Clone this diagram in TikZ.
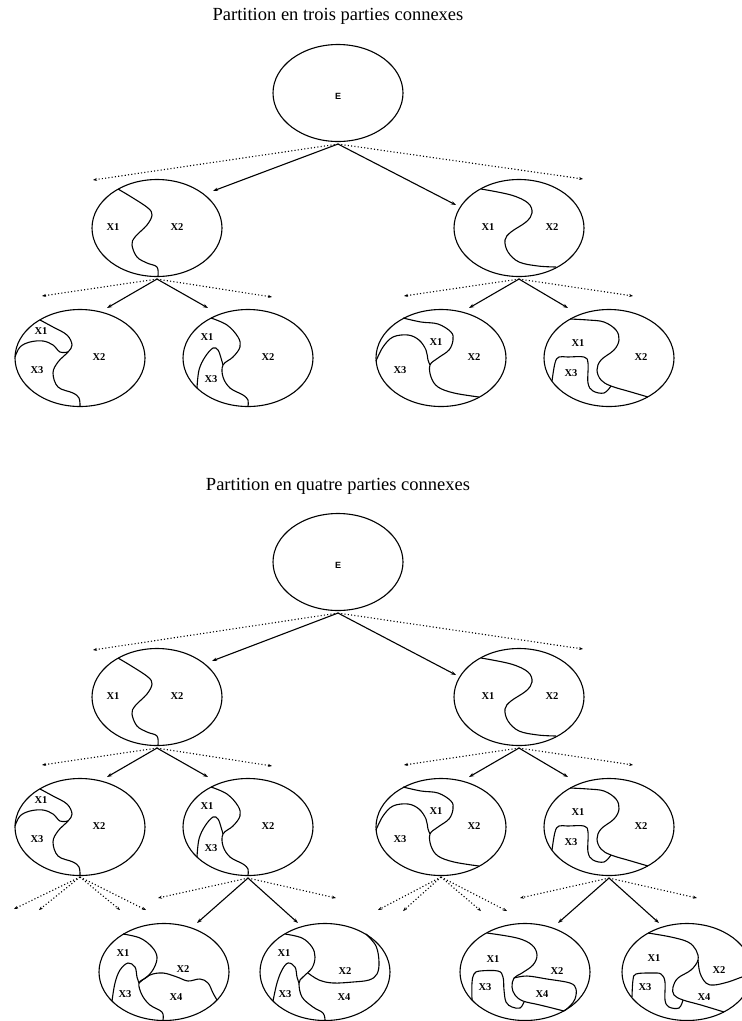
\documentclass[tikz,border=0pt]{standalone}
\usepackage{fontspec}
\setmainfont{Liberation Serif}
\newfontfamily\labfont{Liberation Serif}
\newfontfamily\efont{Liberation Sans}
\usetikzlibrary{shapes.geometric,arrows.meta,calc}
\tikzset{
  ell/.style={draw, ellipse, minimum width=130pt, minimum height=97pt, inner sep=0pt, line width=1.1pt},
  cut/.style={line width=1.1pt},
  lab/.style={font=\labfont\bfseries\fontsize{10.5}{10.5}\selectfont, inner sep=0pt},
  elab/.style={font=\efont\bfseries\fontsize{9}{9}\selectfont},
  arr/.style={line width=1.1pt, -{Stealth[length=5pt,width=3.5pt]}},
  darr/.style={line width=1.1pt, dash pattern=on 1.1pt off 2.2pt, -{Stealth[length=4pt,width=3pt]}},
  ttl/.style={font=\fontsize{18.5}{18.5}\selectfont, inner sep=0pt},
}
% curves inside the ellipses, coordinates relative to the ellipse centre
\newcommand{\shapeA}[1]{%
  \draw[cut] plot[smooth,tension=0.6] coordinates {(-39,-39) (-24,-30) (-9,-20) (-5,-13) (-10,-3) (-22,9) (-25,17) (-20,29) (-10,35) (0,39) (1,48)};
  \node[lab] (#1-1) at (-44,-1) {X1};
  \node[lab] (#1-2) at (20,-1) {X2};
}
\newcommand{\shapeB}[1]{%
  \draw[cut] plot[smooth,tension=0.6] coordinates {(-38,-39) (-8,-33) (9,-25) (13,-15) (7,-6) (-8,4) (-14,12) (-11,24) (0,34) (19,38) (37,39)};
  \node[lab] (#1-1) at (-31,-1) {X1};
  \node[lab] (#1-2) at (33,-1) {X2};
}
\newcommand{\shapeC}[1]{%
  \draw[cut] plot[smooth,tension=0.6] coordinates {(-40,-38) (-27,-31) (-13,-23) (-8,-13) (-12,-6) (-22,4) (-27,15) (-22,29) (-7,35) (-1,40) (0,48)};
  \draw[cut] plot[smooth,tension=0.6] coordinates {(-65,-1) (-60,-11) (-50,-16) (-37,-17) (-27,-13) (-20,-6) (-12,-6)};
  \node[lab] (#1-1) at (-39,-27) {X1};
  \node[lab] (#1-2) at (19,-1) {X2};
  \node[lab] (#1-3) at (-43,12) {X3};
}
\newcommand{\shapeD}[1]{%
  \draw[cut] plot[smooth,tension=0.6] coordinates {(-37,-40) (-21,-33) (-10,-21) (-8,-11) (-15,-1) (-25,7) (-25,19) (-18,30) (-5,37) (0,42) (0,48)};
  \draw[cut] plot[smooth,tension=0.6] coordinates {(-51,30) (-49,12) (-43,-1) (-35,-10) (-30,-8) (-27,0) (-25,7)};
  \node[lab] (#1-1) at (-41,-21) {X1};
  \node[lab] (#1-2) at (20,-1) {X2};
  \node[lab] (#1-3) at (-37,21) {X3};
}
\newcommand{\shapeE}[1]{%
  \draw[cut] plot[smooth,tension=0.6] coordinates {(-38,-40) (-20,-36) (-3,-34) (10,-26) (12,-18) (8,-8) (-3,0) (-11,7) (-10,19) (-3,29) (13,35) (38,39)};
  \draw[cut] plot[smooth,tension=0.6] coordinates {(-65,3) (-58,-11) (-48,-21) (-33,-23) (-22,-18) (-15,-8) (-13,2) (-11,7)};
  \node[lab] (#1-1) at (-5,-16) {X1};
  \node[lab] (#1-2) at (33,-1) {X2};
  \node[lab] (#1-3) at (-41,12) {X3};
}
\newcommand{\shapeF}[1]{%
  \draw[cut] plot[smooth,tension=0.6] coordinates {(-39,-39) (-21,-38) (-5,-36) (7,-28) (10,-18) (5,-8) (-8,2) (-12,12) (-8,22) (2,28) (22,34) (39,39)};
  \draw[cut] plot[smooth,tension=0.6] coordinates {(-57,23) (-54,5) (-50,-1) (-41,-1) (-25,-1) (-21,5) (-21,25) (-16,33) (-5,35) (2,28)};
  \node[lab] (#1-1) at (-31,-15) {X1};
  \node[lab] (#1-2) at (32,-1) {X2};
  \node[lab] (#1-3) at (-38,15) {X3};
}
\newcommand{\shapeG}[1]{%
  \draw[cut] plot[smooth,tension=0.6] coordinates {(-41,-38) (-24,-34) (-12,-25) (-7,-15) (-10,-4) (-17,5) (-25,11) (-22,23) (-14,33) (-2,40) (-1,48)};
  \draw[cut] plot[smooth,tension=0.6] coordinates {(-52,29) (-49,11) (-44,-2) (-36,-9) (-29,-5) (-27,5) (-25,11)};
  \draw[cut] plot[smooth,tension=0.6] coordinates {(-25,11) (-14,3) (-1,1) (13,5) (24,9) (36,7) (44,11) (49,21) (53,28)};
  \node[lab] (#1-1) at (-41,-19) {X1};
  \node[lab] (#1-2) at (19,-3) {X2};
  \node[lab] (#1-3) at (-39,22) {X3};
  \node[lab] (#1-4) at (12,25) {X4};
}
\newcommand{\shapeH}[1]{%
  \draw[cut] plot[smooth,tension=0.6] coordinates {(-40,-38) (-23,-34) (-13,-25) (-10,-15) (-13,-4) (-22,5) (-26,11) (-23,25) (-12,35) (-2,41) (0,48)};
  \draw[cut] plot[smooth,tension=0.6] coordinates {(-52,29) (-48,11) (-43,-2) (-37,-9) (-30,-5) (-28,5) (-26,11)};
  \draw[cut] plot[smooth,tension=0.6] coordinates {(-17,1) (-6,8) (8,11) (28,10) (44,8) (52,2) (54,-10) (51,-26) (41,-38)};
  \node[lab] (#1-1) at (-41,-19) {X1};
  \node[lab] (#1-2) at (20,-1) {X2};
  \node[lab] (#1-3) at (-40,22) {X3};
  \node[lab] (#1-4) at (19,25) {X4};
}
\newcommand{\shapeI}[1]{%
  \draw[cut] plot[smooth,tension=0.6] coordinates {(-38,-39) (-8,-34) (7,-27) (12,-17) (8,-7) (-3,1) (-11,6) (-13,15) (-10,23) (-2,29) (15,33) (39,39)};
  \draw[cut] plot[smooth,tension=0.6] coordinates {(-53,28) (-53,11) (-51,2) (-45,-1) (-27,-1) (-22,5) (-21,18) (-19,30) (-13,35) (-5,36) (-1,30)};
  \draw[cut] plot[smooth,tension=0.6] coordinates {(-11,6) (2,4) (22,7) (45,11) (51,17) (50,27) (45,34) (39,39)};
  \node[lab] (#1-1) at (-32,-13) {X1};
  \node[lab] (#1-2) at (32,-1) {X2};
  \node[lab] (#1-3) at (-40,15) {X3};
  \node[lab] (#1-4) at (17,22) {X4};
}
\newcommand{\shapeJ}[1]{%
  \draw[cut] plot[smooth,tension=0.6] coordinates {(-39,-39) (-16,-35) (1,-30) (9,-22) (11,-12) (4,-2) (-9,6) (-14,15) (-13,23) (-4,28) (14,33) (37,40)};
  \draw[cut] plot[smooth,tension=0.6] coordinates {(-55,25) (-54,8) (-51,2) (-36,1) (-26,2) (-22,10) (-22,28) (-18,35) (-8,36) (-4,28)};
  \draw[cut] plot[smooth,tension=0.6] coordinates {(11,-12) (13,1) (19,11) (27,13) (41,10) (55,5) (65,2)};
  \node[lab] (#1-1) at (-33,-14) {X1};
  \node[lab] (#1-2) at (32,-2) {X2};
  \node[lab] (#1-3) at (-42,15) {X3};
  \node[lab] (#1-4) at (17,25) {X4};
}
% fan of two dotted and two solid arrows: parent, prefix, dl, dr, sl, sr
\newcommand{\fanmix}[6]{%
  \coordinate (#2-dl) at #3; \coordinate (#2-dr) at #4;
  \coordinate (#2-sl) at #5; \coordinate (#2-sr) at #6;
  \draw[darr] ([yshift=-2pt]#1.south) -- (#2-dl);
  \draw[darr] ([yshift=-2pt]#1.south) -- (#2-dr);
  \draw[arr] ([yshift=-2pt]#1.south) -- (#2-sl);
  \draw[arr] ([yshift=-2pt]#1.south) -- (#2-sr);
}
% fan of four dotted arrows
\newcommand{\fandot}[6]{%
  \coordinate (#2-a) at #3; \coordinate (#2-b) at #4;
  \coordinate (#2-c) at #5; \coordinate (#2-d) at #6;
  \foreach \q in {a,b,c,d} {\draw[darr] ([yshift=-1pt]#1.south) -- (#2-\q);}
}
\begin{document}
\begin{tikzpicture}[x=1pt,y=-1pt]
\useasboundingbox (0,0) rectangle (742,1021);
\clip (0,0) rectangle (742,1021);

% ---------------- three parts ----------------
\node[ttl] (title3) at (338,16) {Partition en trois parties connexes};
\node[ell] (r3) at (338,93) {};
\node[elab] (r3e) at (338,96) {E};
\node[ell] (a2l) at (157,228) {};
\node[ell] (a2r) at (519,228) {};
\node[ell] (a3a) at (80,358) {};
\node[ell] (a3b) at (248,358) {};
\node[ell] (a3c) at (441,358) {};
\node[ell] (a3d) at (609,358) {};
\begin{scope}[shift={(a2l.center)}]\shapeA{a2l}\end{scope}
\begin{scope}[shift={(a2r.center)}]\shapeB{a2r}\end{scope}
\begin{scope}[shift={(a3a.center)}]\shapeC{a3a}\end{scope}
\begin{scope}[shift={(a3b.center)}]\shapeD{a3b}\end{scope}
\begin{scope}[shift={(a3c.center)}]\shapeE{a3c}\end{scope}
\begin{scope}[shift={(a3d.center)}]\shapeF{a3d}\end{scope}
\fanmix{r3}{r3f}{(93,180)}{(583,179)}{(213,191)}{(456,205)}
\fanmix{a2l}{a2lf}{(42,296)}{(272,297)}{(107,308)}{(208,308)}
\fanmix{a2r}{a2rf}{(404,296)}{(633,296)}{(469,308)}{(568,308)}

% ---------------- four parts ----------------
\node[ttl] (title4) at (338,486) {Partition en quatre parties connexes};
\node[ell] (r4) at (338,562) {};
\node[elab] (r4e) at (338,565) {E};
\node[ell] (b2l) at (157,697) {};
\node[ell] (b2r) at (519,697) {};
\node[ell] (b3a) at (80,827) {};
\node[ell] (b3b) at (248,827) {};
\node[ell] (b3c) at (441,827) {};
\node[ell] (b3d) at (609,827) {};
\node[ell] (b4a) at (164,972) {};
\node[ell] (b4b) at (325,972) {};
\node[ell] (b4c) at (525,972) {};
\node[ell] (b4d) at (687,972) {};
\begin{scope}[shift={(b2l.center)}]\shapeA{b2l}\end{scope}
\begin{scope}[shift={(b2r.center)}]\shapeB{b2r}\end{scope}
\begin{scope}[shift={(b3a.center)}]\shapeC{b3a}\end{scope}
\begin{scope}[shift={(b3b.center)}]\shapeD{b3b}\end{scope}
\begin{scope}[shift={(b3c.center)}]\shapeE{b3c}\end{scope}
\begin{scope}[shift={(b3d.center)}]\shapeF{b3d}\end{scope}
\begin{scope}[shift={(b4a.center)}]\shapeG{b4a}\end{scope}
\begin{scope}[shift={(b4b.center)}]\shapeH{b4b}\end{scope}
\begin{scope}[shift={(b4c.center)}]\shapeI{b4c}\end{scope}
\begin{scope}[shift={(b4d.center)}]\shapeJ{b4d}\end{scope}
\fanmix{r4}{r4f}{(93,650)}{(583,649)}{(212,661)}{(456,675)}
\fanmix{b2l}{b2lf}{(42,765)}{(272,766)}{(107,777)}{(208,777)}
\fanmix{b2r}{b2rf}{(404,765)}{(633,765)}{(469,777)}{(568,777)}
\fandot{b3a}{b3af}{(14,909)}{(39,910)}{(120,910)}{(146,910)}
\fanmix{b3b}{b3bf}{(158,898)}{(336,898)}{(197,923)}{(298,923)}
\fandot{b3c}{b3cf}{(378,910)}{(403,911)}{(481,911)}{(507,911)}
\fanmix{b3d}{b3df}{(520,898)}{(697,898)}{(558,923)}{(659,923)}
\end{tikzpicture}
\end{document}
